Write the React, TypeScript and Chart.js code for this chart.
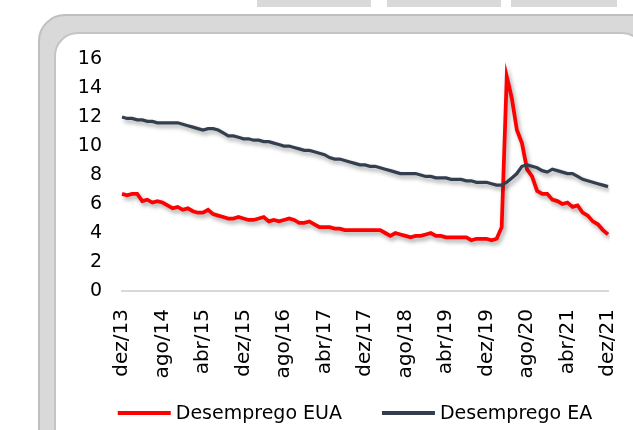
import React, { useEffect, useRef } from 'react';
import { Chart, registerables } from 'chart.js';

Chart.register(...registerables);

// Monthly categories, dez/13 .. dez/21
const monthNames = ['jan', 'fev', 'mar', 'abr', 'mai', 'jun', 'jul', 'ago', 'set', 'out', 'nov', 'dez'];
const startYear = 2013;
const startMonth = 11; // dez
const monthCount = 97;
const categories: string[] = [];
for (let i = 0; i < monthCount; i++) {
  const m = (startMonth + i) % 12;
  const y = startYear + Math.floor((startMonth + i) / 12);
  categories.push(`${monthNames[m]}/${String(y).slice(2)}`);
}

const desempregoEUA = [
  6.7, 6.6, 6.7, 6.7, 6.2, 6.3, 6.1, 6.2, 6.1, 5.9, 5.7, 5.8,
  5.6, 5.7, 5.5, 5.4, 5.4, 5.6, 5.3, 5.2, 5.1, 5.0, 5.0, 5.1,
  5.0, 4.9, 4.9, 5.0, 5.1, 4.8, 4.9, 4.8, 4.9, 5.0, 4.9, 4.7,
  4.7, 4.8, 4.6, 4.4, 4.4, 4.4, 4.3, 4.3, 4.2, 4.2, 4.2, 4.2,
  4.2, 4.2, 4.2, 4.2, 4.0, 3.8, 4.0, 3.9, 3.8, 3.7, 3.8, 3.8,
  3.9, 4.0, 3.8, 3.8, 3.7, 3.7, 3.7, 3.7, 3.7, 3.5, 3.6, 3.6,
  3.6, 3.5, 3.6, 4.4, 14.8, 13.3, 11.1, 10.2, 8.4, 7.9, 6.9, 6.7,
  6.7, 6.3, 6.2, 6.0, 6.1, 5.8, 5.9, 5.4, 5.2, 4.8, 4.6, 4.2,
  3.9,
];

const desempregoEA = [
  12.0, 11.9, 11.9, 11.8, 11.8, 11.7, 11.7, 11.6, 11.6, 11.6, 11.6, 11.6,
  11.5, 11.4, 11.3, 11.2, 11.1, 11.2, 11.2, 11.1, 10.9, 10.7, 10.7, 10.6,
  10.5, 10.5, 10.4, 10.4, 10.3, 10.3, 10.2, 10.1, 10.0, 10.0, 9.9, 9.8,
  9.7, 9.7, 9.6, 9.5, 9.4, 9.2, 9.1, 9.1, 9.0, 8.9, 8.8, 8.7,
  8.7, 8.6, 8.6, 8.5, 8.4, 8.3, 8.2, 8.1, 8.1, 8.1, 8.1, 8.0,
  7.9, 7.9, 7.8, 7.8, 7.8, 7.7, 7.7, 7.7, 7.6, 7.6, 7.5, 7.5,
  7.5, 7.4, 7.3, 7.3, 7.5, 7.8, 8.1, 8.6, 8.7, 8.6, 8.5, 8.3,
  8.2, 8.4, 8.3, 8.2, 8.1, 8.1, 7.9, 7.7, 7.6, 7.5, 7.4, 7.3,
  7.2,
];

const yMin = 0;
const yMax = 16;
const yStep = 2;
const tickEvery = 8;

const seriesNames = ['Desemprego EUA', 'Desemprego EA'];
const seriesColors = ['#ff0000', '#333f4f'];

const FONT = "'DejaVu Sans', sans-serif";

const shadowPlugin = {
  id: 'lineShadow',
  beforeDatasetDraw(chart: any) {
    const ctx = chart.ctx;
    ctx.save();
    ctx.shadowColor = 'rgba(0,0,0,0.35)';
    ctx.shadowBlur = 4;
    ctx.shadowOffsetX = 2;
    ctx.shadowOffsetY = 3;
  },
  afterDatasetDraw(chart: any) {
    chart.ctx.restore();
  },
};

// Legend drawn on the canvas: line sample + label, row centred
const legendPlugin = {
  id: 'customLegend',
  afterDraw(chart: any) {
    const ctx = chart.ctx;
    const lineLen = 53;
    const lineGap = 5;
    const itemGap = 40;
    const centerX = 299;
    const cy = chart.height - 17;
    ctx.save();
    ctx.font = `19px ${FONT}`;
    ctx.textBaseline = 'middle';
    ctx.textAlign = 'left';
    const items = chart.data.datasets.map((ds: any) => ({
      text: ds.label as string,
      color: ds.borderColor as string,
      w: ctx.measureText(ds.label).width,
    }));
    let total = 0;
    items.forEach((it: any, i: number) => {
      total += lineLen + lineGap + it.w + (i < items.length - 1 ? itemGap : 0);
    });
    let x = centerX - total / 2;
    items.forEach((it: any) => {
      ctx.strokeStyle = it.color;
      ctx.lineWidth = 4;
      ctx.lineCap = 'butt';
      ctx.beginPath();
      ctx.moveTo(x, cy);
      ctx.lineTo(x + lineLen, cy);
      ctx.stroke();
      x += lineLen + lineGap;
      ctx.fillStyle = '#000000';
      ctx.fillText(it.text, x, cy + 1);
      x += it.w + itemGap;
    });
    ctx.restore();
  },
};

function LineChart() {
  const ref = useRef<HTMLCanvasElement | null>(null);
  useEffect(() => {
    if (!ref.current) return;
    const chart = new Chart(ref.current, {
      type: 'line',
      data: {
        labels: categories,
        datasets: [
          {
            label: seriesNames[0],
            data: desempregoEUA,
            borderColor: seriesColors[0],
            backgroundColor: seriesColors[0],
            borderWidth: 3.75,
            pointRadius: 0,
            tension: 0,
            order: 2,
          },
          {
            label: seriesNames[1],
            data: desempregoEA,
            borderColor: seriesColors[1],
            backgroundColor: seriesColors[1],
            borderWidth: 3.25,
            pointRadius: 0,
            tension: 0,
            order: 1,
          },
        ],
      },
      options: {
        animation: false,
        responsive: false,
        maintainAspectRatio: false,
        devicePixelRatio: 1,
        layout: { padding: { top: 25, right: 25, left: 0, bottom: 49 } },
        plugins: {
          tooltip: { enabled: false },
          legend: { display: false },
        },
        scales: {
          x: {
            offset: false,
            grid: { display: false, drawTicks: false },
            border: { display: true, color: '#d9d9d9', width: 2 },
            ticks: {
              autoSkip: false,
              maxRotation: 90,
              minRotation: 90,
              padding: 18,
              color: '#000000',
              font: { family: FONT, size: 20 },
              callback: (_v: any, i: number) => (i % tickEvery === 0 ? categories[i] : null),
            },
            afterFit: (axis: any) => {
              axis.height = 90;
              axis.paddingLeft = 0;
              axis.paddingRight = 0;
            },
          },
          y: {
            min: yMin,
            max: yMax,
            grid: { display: false, drawTicks: false },
            border: { display: false },
            ticks: {
              stepSize: yStep,
              padding: 20,
              color: '#000000',
              font: { family: FONT, size: 19 },
            },
            afterFit: (axis: any) => {
              axis.width = 66;
              axis.paddingTop = 0;
              axis.paddingBottom = 0;
            },
          },
        },
      },
      plugins: [shadowPlugin, legendPlugin],
    });
    return () => chart.destroy();
  }, []);
  return (
    <canvas
      ref={ref}
      width={577}
      height={396}
      style={{ position: 'absolute', left: 56, top: 34, width: 577, height: 396 }}
    />
  );
}

export default function App() {
  const box = (left: number, width: number) => (
    <div style={{ position: 'absolute', left, top: 0, width, height: 7, background: '#d9d9d9' }} />
  );
  return (
    <div
      style={{
        position: 'fixed',
        left: 0,
        top: 0,
        width: 633,
        height: 430,
        overflow: 'hidden',
        background: '#ffffff',
      }}
    >
      {box(257, 114)}
      {box(387, 114)}
      {box(511, 106)}
      <div
        style={{
          position: 'absolute',
          left: 38,
          top: 14,
          width: 700,
          height: 600,
          background: '#d9d9d9',
          border: '2px solid #bfbfbf',
          borderRadius: 27,
          boxSizing: 'border-box',
        }}
      />
      <div
        style={{
          position: 'absolute',
          left: 54,
          top: 32,
          width: 592,
          height: 600,
          background: '#ffffff',
          border: '2px solid #c4c4c4',
          borderRadius: 24,
          boxSizing: 'border-box',
        }}
      />
      <LineChart />
    </div>
  );
}
